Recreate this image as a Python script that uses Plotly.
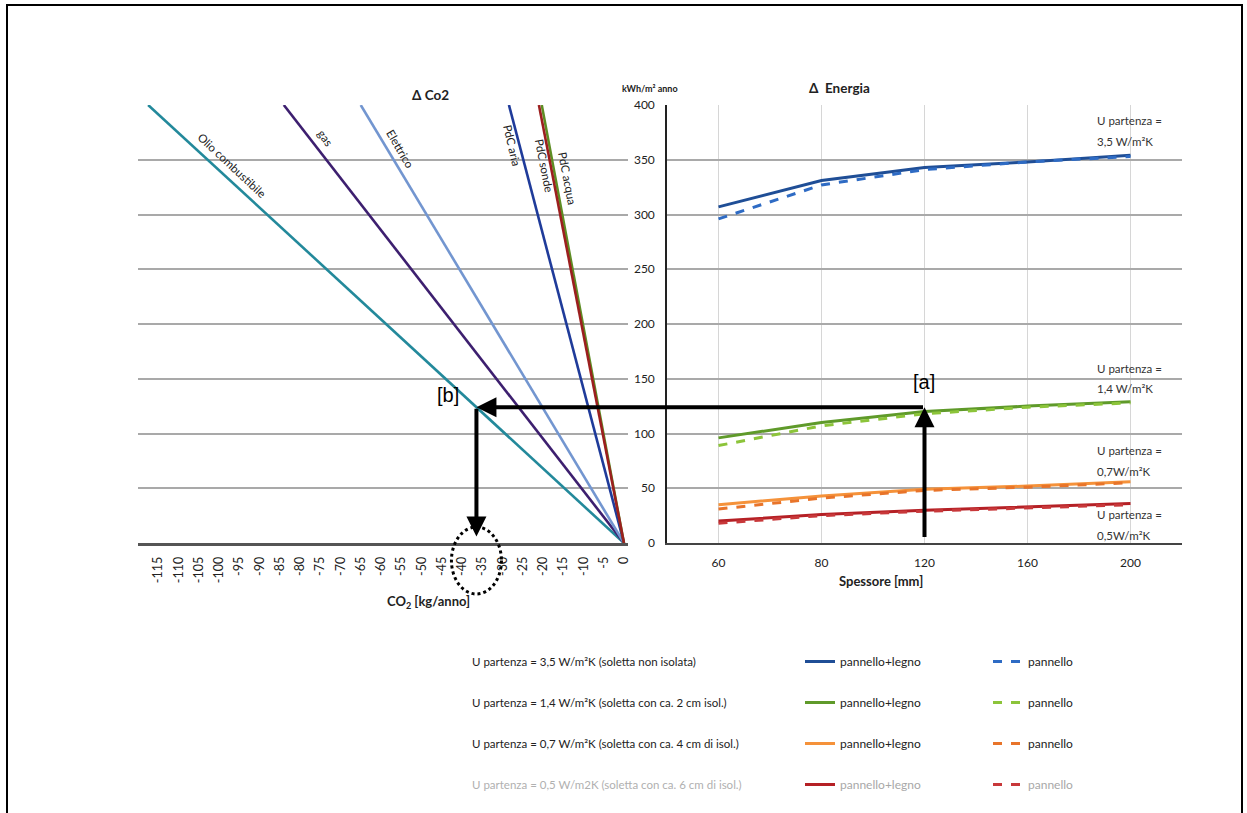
import plotly.graph_objects as go

# ---------------- data ----------------
# Left panel: CO2 difference lines (from origin to the CO2 value reached at 400 kWh/m² anno)
fuels = ["Olio combustibile", "gas", "Elettrico", "PdC aria", "PdC acqua", "PdC sonde"]
co2_at_400 = [-117.5, -84.0, -65.0, -28.4, -20.3, -21.0]
fuel_colors = ["#23899b", "#3d1f6f", "#7396d0", "#1f3b9a", "#5e8d24", "#9c1f1f"]
energy_span = [0, 400]
co2_ticks = list(range(-115, 1, 5))
co2_ticktext = [str(v) for v in co2_ticks]

# Right panel: Δ energia vs spessore
spessore = ["60", "80", "120", "160", "200"]
u_values = ["3,5", "1,4", "0,7", "0,5"]
pl_35 = [307, 331, 343, 348, 354]
p_35 = [296, 327, 341, 348, 353]
pl_14 = [96, 110, 120, 125, 129]
p_14 = [89, 107, 118, 124, 128]
pl_07 = [35, 43, 49, 52, 56]
p_07 = [31, 41, 48, 51, 55]
pl_05 = [20, 26, 30, 33, 36]
p_05 = [18, 25, 29, 32, 35]
solid_series = [pl_35, pl_14, pl_07, pl_05]
dash_series = [p_35, p_14, p_07, p_05]
solid_colors = ["#1f4e96", "#5f9a2a", "#f5923a", "#b52025"]
dash_colors = ["#2e6bc4", "#8cc43a", "#e8742a", "#c8383a"]
legend_rows = [
    "U partenza = 3,5 W/m²K (soletta non isolata)",
    "U partenza = 1,4 W/m²K (soletta con ca. 2 cm isol.)",
    "U partenza = 0,7 W/m²K (soletta con ca. 4 cm di isol.)",
    "U partenza = 0,5 W/m2K (soletta con ca. 6 cm di isol.)",
]
curve_labels = [("U partenza =", "3,5 W/m²K"), ("U partenza =", "1,4 W/m²K"),
                ("U partenza =", "0,7W/m²K"), ("U partenza =", "0,5W/m²K")]

# example reading: 120 mm on the 1,4 curve -> oil line
sel_spessore = "120"
sel_energy = 124

# ---------------- layout geometry ----------------
W, H = 1247, 813
L_X0, L_X1 = 138, 628
R_X0, R_X1 = 667, 1182
Y_BOT, Y_TOP = 543, 105
X_RANGE = [-120, 1]
FONT = "Lato"


def px(x):
    return x / W


def py(y):
    return 1 - y / H


fig = go.Figure()

# left lines
for name, c, col in zip(fuels, co2_at_400, fuel_colors):
    fig.add_trace(go.Scatter(x=[c, 0], y=energy_span[::-1], mode="lines",
                             line=dict(color=col, width=2.6), showlegend=False,
                             xaxis="x", yaxis="y", name=name))

# right curves
for i in range(4):
    fig.add_trace(go.Scatter(x=spessore, y=solid_series[i], mode="lines",
                             line=dict(color=solid_colors[i], width=3),
                             name=("pannello+legno" if i < 3 else
                                   "<span style='color:#a8a8a8'>pannello+legno</span>"),
                             legend="legend", legendgroup="s%d" % i,
                             xaxis="x2", yaxis="y2"))
for i in range(4):
    fig.add_trace(go.Scatter(x=spessore, y=dash_series[i], mode="lines",
                             line=dict(color=dash_colors[i], width=3, dash="dash"),
                             name=("pannello" if i < 3 else
                                   "<span style='color:#a8a8a8'>pannello</span>"),
                             legend="legend2", legendgroup="d%d" % i,
                             xaxis="x2", yaxis="y2"))

ann = []
# line labels along the CO2 lines
line_label_pos = [(-96.7, 345, 43), (-73.8, 370, 55), (-55.3, 360, 60),
                  (-27.6, 363, 77), (-13.9, 333, 79), (-19.6, 345, 79)]
for name, (lx, ly, ang) in zip(fuels, line_label_pos):
    ann.append(dict(x=lx, y=ly, xref="x", yref="y", text=name, showarrow=False,
                    textangle=ang, font=dict(family=FONT, size=11.5, color="#222")))

# curve labels on the right
curve_label_y = [(121, 142), (368, 389), (450, 471), (514, 535)]
for (t1, t2), (y1, y2) in zip(curve_labels, curve_label_y):
    for t, yy in ((t1, y1), (t2, y2)):
        ann.append(dict(x=px(1095), y=py(yy), xref="paper", yref="paper", text=t,
                        showarrow=False, xanchor="left", yanchor="middle",
                        font=dict(family=FONT, size=11.5, color="#333")))

# titles
ann += [
    dict(x=px(430), y=py(85), xref="paper", yref="paper", text="<b>Δ Co2</b>",
         showarrow=False, font=dict(family=FONT, size=13.5, color="#222")),
    dict(x=px(650), y=py(81), xref="paper", yref="paper", text="<b>kWh/m² anno</b>",
         showarrow=False, font=dict(family=FONT, size=9, color="#222")),
    dict(x=px(872), y=py(78), xref="paper", yref="paper", text="<b>Δ  Energia</b>",
         showarrow=False, font=dict(family=FONT, size=13.5, color="#222")),
    dict(x=px(385), y=py(613), xref="paper", yref="paper",
         text="<b>CO<sub>2</sub> [kg/anno]</b>",
         showarrow=False, font=dict(family=FONT, size=13, color="#222")),
    dict(x=px(925), y=py(591), xref="paper", yref="paper", text="<b>Spessore [mm]</b>",
         showarrow=False, font=dict(family=FONT, size=13, color="#222")),
]

# legend row labels
legend_row_y = [661, 702, 743, 784]
for i, (t, yy) in enumerate(zip(legend_rows, legend_row_y)):
    ann.append(dict(x=px(470), y=py(yy), xref="paper", yref="paper", text=t,
                    showarrow=False, xanchor="left", yanchor="middle",
                    font=dict(family=FONT, size=11.5, color="#222" if i < 3 else "#b0b0b0")))

# arrows of the worked example
sel_idx = spessore.index(sel_spessore)
b_x = co2_at_400[0] * sel_energy / energy_span[1]
sel_px = R_X0 + (sel_idx + 0.5) / len(spessore) * (R_X1 - R_X0)
tail_in_left = X_RANGE[0] + (sel_px - L_X0) / (L_X1 - L_X0) * (X_RANGE[1] - X_RANGE[0])
arrow_style = dict(showarrow=True, text="", arrowhead=2, arrowsize=1, arrowwidth=4,
                   arrowcolor="black", standoff=0, startstandoff=0)
ann += [
    dict(x=sel_idx, y=sel_energy, xref="x2", yref="y2", ax=sel_idx, ay=4,
         axref="x2", ayref="y2", **arrow_style),
    dict(x=b_x, y=sel_energy, xref="x", yref="y", ax=tail_in_left, ay=sel_energy,
         axref="x", ayref="y", **arrow_style),
    dict(x=b_x, y=6, xref="x", yref="y", ax=b_x, ay=sel_energy,
         axref="x", ayref="y", **arrow_style),
    dict(x=sel_idx, y=147, xref="x2", yref="y2", text="[a]", showarrow=False,
         font=dict(family="Liberation Sans", size=20, color="black")),
    dict(x=-43.5, y=135, xref="x", yref="y", text="[b]", showarrow=False,
         font=dict(family="Liberation Sans", size=20, color="black")),
]

b_px = L_X0 + (b_x - X_RANGE[0]) / (X_RANGE[1] - X_RANGE[0]) * (L_X1 - L_X0)
shapes = [
    dict(type="circle", xref="paper", yref="paper", x0=px(b_px - 25), x1=px(b_px + 25),
         y0=py(594), y1=py(527), line=dict(color="black", width=3, dash="dot")),
    dict(type="rect", xref="paper", yref="paper", x0=px(7), x1=px(1242), y0=-0.02,
         y1=py(5), line=dict(color="black", width=2)),
]

grid_col = "#a9a9a9"
fig.update_layout(
    width=W, height=H,
    margin=dict(l=0, r=0, t=0, b=0, autoexpand=False),
    paper_bgcolor="white", plot_bgcolor="white",
    font=dict(family=FONT, size=12, color="#222"),
    xaxis=dict(domain=[px(L_X0), px(L_X1)], range=X_RANGE, tickvals=co2_ticks,
               ticktext=co2_ticktext,
               tickangle=-90, showgrid=False, zeroline=False, showline=True,
               linecolor="#555", linewidth=2.5, ticks="", ticklabelstandoff=6,
               tickfont=dict(family=FONT, size=12.5, color="#222"), anchor="y"),
    yaxis=dict(domain=[py(Y_BOT), py(Y_TOP)], range=energy_span, dtick=50,
               showticklabels=False, showgrid=True, gridcolor=grid_col, gridwidth=1.5,
               zeroline=False, showline=False, ticks="", anchor="x"),
    xaxis2=dict(domain=[px(R_X0), px(R_X1)], type="category", range=[-0.5, 4.5],
                showgrid=True,
                gridcolor="#d6d6d6", gridwidth=1, showline=True, linecolor="#444",
                linewidth=1.5, ticks="", ticklabelstandoff=8, zeroline=False,
                tickfont=dict(family=FONT, size=12, color="#222"), anchor="y2"),
    yaxis2=dict(domain=[py(Y_BOT), py(Y_TOP)], range=energy_span, dtick=50,
                showgrid=True, gridcolor=grid_col, gridwidth=1.5, zeroline=False,
                showline=True, linecolor="#222", linewidth=1.5, ticks="",
                ticklabelstandoff=8, tickfont=dict(family=FONT, size=12, color="#222"),
                anchor="x2"),
    legend=dict(x=px(800), y=py(647), xanchor="left", yanchor="top",
                bgcolor="rgba(0,0,0,0)", tracegroupgap=22, traceorder="grouped",
                font=dict(family=FONT, size=12, color="#222")),
    legend2=dict(x=px(988), y=py(647), xanchor="left", yanchor="top",
                 bgcolor="rgba(0,0,0,0)", tracegroupgap=22, traceorder="grouped",
                 font=dict(family=FONT, size=12, color="#222")),
    annotations=ann,
    shapes=shapes,
    showlegend=True,
)

fig.write_html("out.html", config={"displayModeBar": False},
               post_script="document.body.style.margin='0';")
